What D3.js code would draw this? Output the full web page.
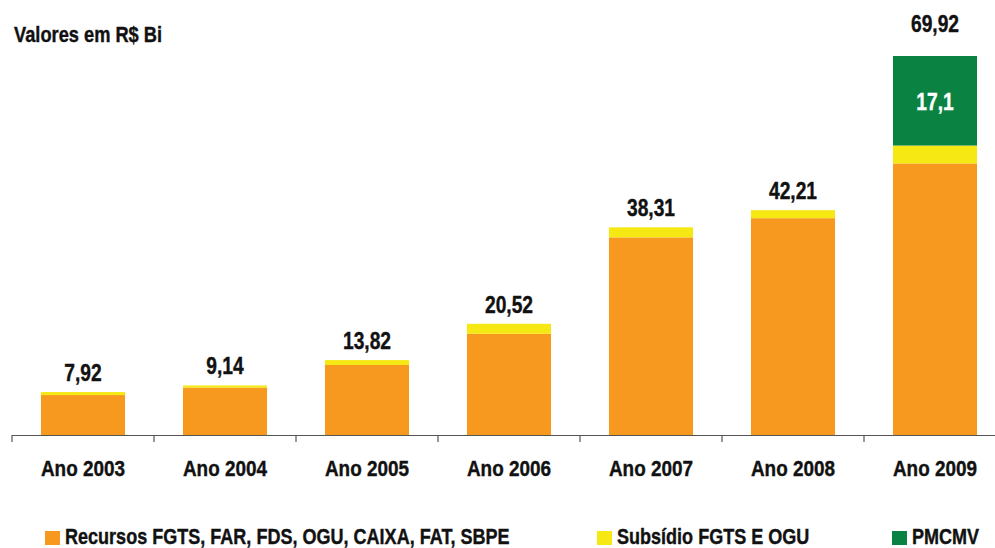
<!DOCTYPE html>
<html>
<head>
<meta charset="utf-8">
<script src="https://cdn.jsdelivr.net/npm/d3@7"></script>
<style>
  body { margin: 0; background: #fff; }
  text { font-family: "Liberation Sans", Arial, sans-serif; font-weight: bold; fill: #111; stroke: #111; stroke-width: 0.4px; }
  text.inner { fill: #fff; stroke: #fff; }
</style>
</head>
<body>
<div id="chart"></div>
<script>
const years = ["Ano 2003", "Ano 2004", "Ano 2005", "Ano 2006", "Ano 2007", "Ano 2008", "Ano 2009"];
const recursos = [7.37, 8.74, 12.92, 18.67, 36.46, 40.0, 50.1];
const subsidio = [0.55, 0.40, 0.90, 1.85, 1.85, 1.48, 3.3];
const pmcmv = [0, 0, 0, 0, 0, 0, 16.52];
const totals = ["7,92", "9,14", "13,82", "20,52", "38,31", "42,21", "69,92"];
const pmcmvLabels = ["", "", "", "", "", "", "17,1"];

const seriesNames = ["Recursos FGTS, FAR, FDS, OGU, CAIXA, FAT, SBPE", "Subsídio FGTS E OGU", "PMCMV"];
const colors = ["#F7991E", "#F5E813", "#0A8242"];

const width = 995, height = 548;

const svg = d3.select("#chart")
  .append("svg")
  .attr("width", width)
  .attr("height", height);

// squeeze text horizontally to mimic a condensed face
function place(sel, fx, fy, sx) {
  sel.attr("transform", (d, i) => `translate(${fx(d, i)},${fy(d, i)}) scale(${sx},1)`);
}

// stack the three series
const rows = years.map((y, i) => ({ year: y, r: recursos[i], s: subsidio[i], p: pmcmv[i] }));
const stack = d3.stack().keys(["r", "s", "p"])(rows);

const x = d3.scaleBand()
  .domain(years)
  .range([12, 1006])
  .paddingInner(0.408)
  .paddingOuter(0.204);

const y = d3.scaleLinear()
  .domain([0, d3.max(rows, d => d.r + d.s + d.p)])
  .range([435, 56]);

// bars
svg.selectAll("g.layer")
  .data(stack)
  .enter()
  .append("g")
  .attr("class", "layer")
  .attr("fill", (d, i) => colors[i])
  .selectAll("rect")
  .data(d => d.filter(v => v[1] - v[0] > 0))
  .enter()
  .append("rect")
  .attr("x", d => x(d.data.year))
  .attr("width", x.bandwidth())
  .attr("y", d => y(d[1]))
  .attr("height", d => y(d[0]) - y(d[1]));

// axis line with ticks between categories
const gap = x.step() * x.paddingInner() / 2;
const axis = svg.append("g").attr("stroke", "#555").attr("stroke-width", 1.2);
axis.append("line")
  .attr("x1", x(years[0]) - gap).attr("x2", width)
  .attr("y1", y(0) + 0.5).attr("y2", y(0) + 0.5);
axis.selectAll("line.tick")
  .data(years)
  .enter()
  .append("line")
  .attr("class", "tick")
  .attr("x1", d => x(d) - gap).attr("x2", d => x(d) - gap)
  .attr("y1", y(0)).attr("y2", y(0) + 7);

const mid = d => x(d.year || d) + x.bandwidth() / 2;

// category labels
svg.selectAll("text.cat")
  .data(years)
  .enter()
  .append("text")
  .attr("class", "cat")
  .attr("text-anchor", "middle")
  .style("font-size", "22px")
  .text(d => d)
  .call(place, mid, () => 476, 0.86);

// total labels (2009 sits higher, above the PMCMV block)
svg.selectAll("text.total")
  .data(rows)
  .enter()
  .append("text")
  .attr("class", "total")
  .attr("text-anchor", "middle")
  .style("font-size", "24px")
  .text((d, i) => totals[i])
  .call(place, mid, d => y(d.r + d.s + d.p) - (d.p > 0 ? 24 : 11), 0.8);

// pmcmv label inside green
svg.selectAll("text.inner")
  .data(rows.filter(d => d.p > 0))
  .enter()
  .append("text")
  .attr("class", "inner")
  .attr("text-anchor", "middle")
  .style("font-size", "24px")
  .text(d => pmcmvLabels[years.indexOf(d.year)])
  .call(place, mid, d => (y(d.r + d.s + d.p) + y(d.r + d.s)) / 2 + 9, 0.8);

// title
svg.append("text")
  .style("font-size", "22px")
  .text("Valores em R$ Bi")
  .call(place, () => 14, () => 42, 0.83);

// legend
const legendX = [45, 597, 892];
const legend = svg.selectAll("g.legend")
  .data(seriesNames)
  .enter()
  .append("g")
  .attr("class", "legend")
  .attr("transform", (d, i) => `translate(${legendX[i]},531)`);
legend.append("rect")
  .attr("width", 15).attr("height", 14)
  .attr("fill", (d, i) => colors[i]);
legend.append("text")
  .style("font-size", "22px")
  .text(d => d)
  .call(place, () => 20, () => 13, 0.82);
</script>
</body>
</html>
